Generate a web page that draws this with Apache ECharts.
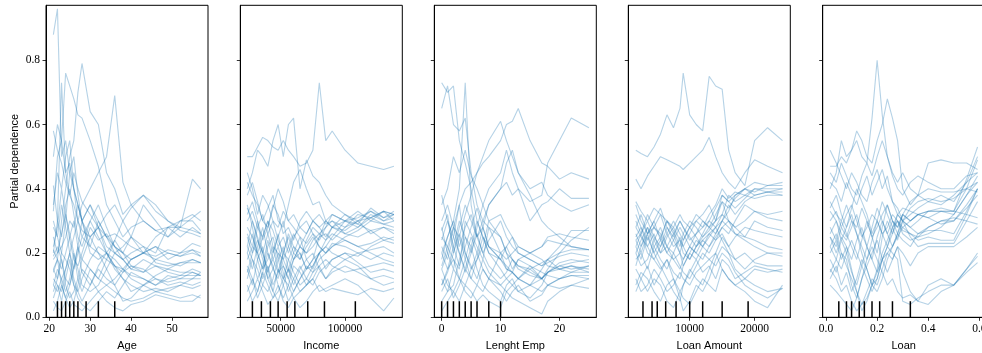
<!DOCTYPE html>
<html><head><meta charset="utf-8">
<script src="https://cdn.jsdelivr.net/npm/echarts@6/dist/echarts.min.js"></script>
<style>html,body{margin:0;padding:0;background:#fff}#c{width:982px;height:353px}</style>
</head><body><div id="c"></div><script>
// ---------- data ----------
const featureNames = ["Age", "Income", "Lenght Emp", "Loan Amount", "Loan"];
const yTicks = [0, 0.2, 0.4, 0.6, 0.8];

const ageX = [21,22,23,24,25,26,27,28,30,32,34,36,38,40,43,46,49,52,55,57];
const ageLines = [
 [0.88,0.96,0.50,0.55,0.45,0.40,0.35,0.30,0.22,0.20,0.18,0.16,0.15,0.13,0.12,0.10,0.12,0.13,0.13,0.13],
 [0.58,0.52,0.48,0.42,0.38,0.35,0.30,0.27,0.25,0.28,0.22,0.20,0.18,0.15,0.14,0.16,0.15,0.17,0.17,0.17],
 [0.20,0.30,0.73,0.45,0.48,0.40,0.30,0.25,0.30,0.35,0.28,0.22,0.20,0.18,0.20,0.22,0.20,0.19,0.21,0.19],
 [0.33,0.50,0.55,0.76,0.72,0.68,0.63,0.62,0.55,0.47,0.35,0.30,0.25,0.28,0.30,0.27,0.28,0.28,0.27,0.26],
 [0.15,0.18,0.30,0.40,0.50,0.55,0.70,0.79,0.64,0.60,0.45,0.40,0.32,0.35,0.38,0.33,0.30,0.28,0.31,0.33],
 [0.10,0.08,0.12,0.15,0.20,0.25,0.30,0.35,0.40,0.45,0.50,0.69,0.42,0.35,0.30,0.27,0.25,0.30,0.32,0.30],
 [0.41,0.30,0.25,0.35,0.40,0.32,0.25,0.22,0.30,0.25,0.20,0.18,0.15,0.12,0.10,0.08,0.09,0.10,0.12,0.14],
 [0.21,0.18,0.15,0.20,0.25,0.30,0.22,0.18,0.15,0.12,0.10,0.08,0.06,0.05,0.06,0.08,0.07,0.06,0.07,0.06],
 [0.12,0.10,0.08,0.15,0.20,0.12,0.08,0.05,0.10,0.15,0.12,0.10,0.14,0.18,0.20,0.25,0.28,0.30,0.30,0.27],
 [0.19,0.22,0.18,0.12,0.10,0.15,0.20,0.25,0.22,0.30,0.25,0.20,0.22,0.25,0.35,0.30,0.25,0.28,0.43,0.40],
 [0.05,0.03,0.02,0.05,0.08,0.04,0.03,0.02,0.05,0.08,0.10,0.12,0.15,0.18,0.20,0.22,0.18,0.20,0.23,0.22],
 [0.28,0.25,0.20,0.18,0.15,0.10,0.08,0.12,0.18,0.22,0.20,0.15,0.12,0.10,0.08,0.09,0.08,0.10,0.09,0.10],
 [0.15,0.12,0.18,0.10,0.06,0.08,0.12,0.18,0.25,0.20,0.15,0.10,0.05,0.06,0.10,0.13,0.15,0.14,0.14,0.13],
 [0.02,0.05,0.10,0.06,0.03,0.05,0.10,0.15,0.12,0.08,0.05,0.03,0.02,0.04,0.05,0.07,0.06,0.05,0.05,0.07],
 [0.18,0.20,0.22,0.25,0.30,0.28,0.35,0.30,0.25,0.28,0.32,0.35,0.30,0.25,0.22,0.20,0.28,0.25,0.28,0.26],
 [0.08,0.12,0.20,0.30,0.45,0.50,0.38,0.30,0.20,0.18,0.20,0.16,0.14,0.16,0.15,0.12,0.11,0.12,0.12,0.12],
 [0.35,0.45,0.40,0.50,0.55,0.40,0.35,0.30,0.35,0.30,0.25,0.22,0.20,0.25,0.20,0.18,0.17,0.16,0.18,0.17],
 [0.10,0.15,0.12,0.08,0.12,0.20,0.15,0.10,0.08,0.10,0.15,0.20,0.18,0.15,0.18,0.16,0.14,0.13,0.15,0.14],
 [0.50,0.60,0.55,0.45,0.38,0.45,0.40,0.36,0.32,0.28,0.25,0.26,0.24,0.22,0.20,0.19,0.21,0.20,0.21,0.20],
 [0.25,0.20,0.26,0.32,0.24,0.18,0.16,0.20,0.28,0.24,0.26,0.22,0.18,0.20,0.22,0.17,0.16,0.17,0.18,0.17],
 [0.30,0.25,0.35,0.28,0.20,0.15,0.22,0.30,0.35,0.28,0.20,0.24,0.30,0.34,0.38,0.35,0.30,0.27,0.26,0.25],
 [0.14,0.18,0.10,0.06,0.10,0.16,0.22,0.14,0.10,0.16,0.20,0.16,0.12,0.08,0.10,0.12,0.10,0.11,0.10,0.11],
 [0.22,0.28,0.40,0.32,0.26,0.20,0.12,0.08,0.15,0.12,0.18,0.24,0.20,0.16,0.14,0.18,0.20,0.19,0.20,0.19],
 [0.06,0.10,0.05,0.12,0.18,0.10,0.06,0.04,0.02,0.05,0.08,0.06,0.10,0.14,0.12,0.10,0.13,0.12,0.14,0.13]
];
const ageRug = [22,23,24,25,26,27,29,32,36];
const ageTicks = [20,30,40,50];

const incomeX = [24000,28000,32000,36000,40000,44000,48000,52000,56000,60000,65000,70000,75000,80000,85000,90000,100000,110000,120000,130000,138000];
const incomeLines = [
 [0.50,0.50,0.53,0.56,0.55,0.53,0.52,0.55,0.52,0.50,0.47,0.48,0.52,0.73,0.55,0.58,0.52,0.48,0.47,0.46,0.47],
 [0.40,0.45,0.52,0.50,0.47,0.55,0.60,0.50,0.60,0.62,0.40,0.49,0.44,0.42,0.38,0.35,0.32,0.30,0.31,0.33,0.32],
 [0.42,0.38,0.35,0.30,0.34,0.38,0.30,0.28,0.35,0.42,0.46,0.40,0.35,0.36,0.30,0.28,0.27,0.30,0.33,0.31,0.32],
 [0.22,0.30,0.25,0.20,0.15,0.18,0.22,0.16,0.12,0.18,0.20,0.15,0.16,0.20,0.22,0.25,0.30,0.28,0.32,0.30,0.31],
 [0.15,0.10,0.18,0.22,0.12,0.08,0.15,0.10,0.05,0.08,0.12,0.16,0.14,0.18,0.20,0.22,0.25,0.27,0.30,0.29,0.30],
 [0.05,0.08,0.12,0.08,0.04,0.06,0.10,0.05,0.03,0.06,0.08,0.10,0.12,0.08,0.09,0.10,0.12,0.10,0.06,0.02,0.06],
 [0.30,0.33,0.28,0.25,0.30,0.27,0.22,0.25,0.20,0.25,0.28,0.30,0.26,0.24,0.28,0.32,0.30,0.33,0.30,0.33,0.30],
 [0.20,0.15,0.22,0.28,0.20,0.15,0.12,0.20,0.25,0.20,0.18,0.22,0.25,0.22,0.20,0.23,0.22,0.20,0.18,0.20,0.19],
 [0.35,0.28,0.20,0.15,0.22,0.25,0.18,0.12,0.15,0.20,0.25,0.18,0.15,0.20,0.15,0.18,0.20,0.17,0.14,0.15,0.14],
 [0.12,0.18,0.15,0.10,0.08,0.12,0.18,0.22,0.15,0.10,0.15,0.18,0.20,0.15,0.12,0.14,0.16,0.14,0.12,0.10,0.11],
 [0.25,0.20,0.28,0.32,0.26,0.20,0.25,0.30,0.22,0.18,0.22,0.26,0.30,0.28,0.25,0.28,0.32,0.29,0.34,0.31,0.33],
 [0.08,0.12,0.06,0.10,0.15,0.08,0.05,0.10,0.15,0.12,0.08,0.10,0.14,0.16,0.12,0.15,0.18,0.16,0.12,0.13,0.12],
 [0.45,0.40,0.32,0.38,0.35,0.30,0.28,0.33,0.30,0.28,0.25,0.23,0.26,0.22,0.20,0.22,0.24,0.22,0.23,0.25,0.24],
 [0.18,0.22,0.20,0.15,0.18,0.22,0.15,0.12,0.18,0.22,0.20,0.15,0.18,0.25,0.26,0.24,0.28,0.30,0.26,0.28,0.27],
 [0.28,0.25,0.20,0.25,0.30,0.22,0.20,0.18,0.22,0.26,0.22,0.20,0.22,0.25,0.30,0.28,0.26,0.25,0.27,0.24,0.25],
 [0.10,0.05,0.08,0.14,0.10,0.06,0.08,0.12,0.10,0.06,0.03,0.05,0.08,0.10,0.08,0.09,0.08,0.07,0.09,0.08,0.09],
 [0.38,0.42,0.36,0.30,0.28,0.34,0.40,0.36,0.30,0.32,0.28,0.26,0.30,0.32,0.29,0.30,0.28,0.32,0.31,0.29,0.28],
 [0.22,0.18,0.12,0.16,0.24,0.18,0.14,0.16,0.12,0.08,0.12,0.15,0.18,0.20,0.22,0.20,0.18,0.20,0.21,0.22,0.20],
 [0.14,0.20,0.24,0.18,0.12,0.15,0.20,0.14,0.08,0.12,0.16,0.12,0.10,0.14,0.16,0.18,0.20,0.19,0.22,0.24,0.23],
 [0.32,0.36,0.30,0.24,0.28,0.35,0.32,0.26,0.28,0.24,0.30,0.33,0.30,0.28,0.30,0.32,0.30,0.31,0.33,0.30,0.32],
 [0.26,0.22,0.30,0.20,0.14,0.20,0.26,0.18,0.14,0.18,0.22,0.20,0.24,0.26,0.28,0.30,0.26,0.28,0.31,0.33,0.32],
 [0.16,0.12,0.08,0.14,0.20,0.16,0.10,0.06,0.10,0.16,0.14,0.10,0.12,0.16,0.18,0.16,0.14,0.15,0.16,0.17,0.16],
 [0.34,0.30,0.24,0.20,0.26,0.30,0.24,0.20,0.26,0.22,0.18,0.24,0.28,0.26,0.24,0.28,0.30,0.29,0.27,0.28,0.26],
 [0.20,0.26,0.18,0.12,0.16,0.10,0.14,0.20,0.18,0.14,0.10,0.12,0.16,0.20,0.24,0.26,0.24,0.22,0.20,0.18,0.17]
];
const incomeRug = [28000,35000,42000,48000,55000,61000,71000,84000,108000];
const incomeTicks = [50000,100000];

const empX = [0,1,2,3,4,5,6,7,8,10,11,12,13,15,17,18,20,22,25];
const empLines = [
 [0.73,0.70,0.72,0.55,0.48,0.40,0.30,0.25,0.22,0.18,0.15,0.14,0.12,0.10,0.15,0.18,0.20,0.21,0.21],
 [0.65,0.72,0.60,0.58,0.62,0.45,0.35,0.30,0.28,0.25,0.20,0.18,0.15,0.13,0.12,0.14,0.16,0.17,0.18],
 [0.20,0.25,0.30,0.40,0.73,0.35,0.25,0.30,0.35,0.40,0.42,0.38,0.40,0.36,0.38,0.48,0.55,0.62,0.59],
 [0.15,0.20,0.28,0.35,0.40,0.42,0.45,0.48,0.50,0.55,0.60,0.61,0.65,0.55,0.48,0.47,0.43,0.45,0.43],
 [0.30,0.35,0.28,0.25,0.32,0.38,0.45,0.50,0.55,0.61,0.55,0.50,0.45,0.40,0.42,0.38,0.35,0.33,0.35],
 [0.10,0.15,0.22,0.30,0.25,0.20,0.28,0.35,0.40,0.45,0.52,0.45,0.40,0.30,0.35,0.36,0.40,0.37,0.37],
 [0.05,0.08,0.15,0.12,0.18,0.25,0.20,0.15,0.12,0.10,0.08,0.06,0.05,0.03,0.01,0.05,0.08,0.10,0.12],
 [0.22,0.18,0.25,0.35,0.20,0.15,0.18,0.22,0.30,0.25,0.20,0.15,0.18,0.16,0.12,0.15,0.20,0.24,0.28],
 [0.12,0.08,0.10,0.18,0.25,0.22,0.15,0.10,0.08,0.05,0.10,0.12,0.08,0.06,0.10,0.14,0.16,0.15,0.16],
 [0.38,0.30,0.25,0.20,0.15,0.22,0.30,0.25,0.20,0.18,0.22,0.25,0.20,0.18,0.16,0.18,0.22,0.27,0.27],
 [0.02,0.05,0.08,0.05,0.10,0.08,0.05,0.07,0.05,0.03,0.08,0.10,0.12,0.15,0.12,0.10,0.09,0.10,0.09],
 [0.25,0.22,0.18,0.15,0.30,0.26,0.22,0.18,0.28,0.20,0.22,0.18,0.16,0.15,0.17,0.18,0.15,0.16,0.14],
 [0.18,0.25,0.30,0.22,0.28,0.32,0.25,0.20,0.24,0.30,0.25,0.22,0.20,0.18,0.16,0.17,0.19,0.20,0.19],
 [0.08,0.12,0.06,0.10,0.15,0.12,0.18,0.25,0.20,0.15,0.12,0.14,0.12,0.10,0.08,0.10,0.12,0.13,0.13],
 [0.28,0.20,0.15,0.25,0.18,0.12,0.10,0.15,0.12,0.08,0.05,0.08,0.10,0.05,0.07,0.10,0.12,0.14,0.16],
 [0.35,0.40,0.50,0.45,0.52,0.44,0.40,0.35,0.30,0.32,0.28,0.25,0.22,0.20,0.22,0.25,0.26,0.25,0.24],
 [0.15,0.10,0.08,0.12,0.08,0.06,0.10,0.08,0.12,0.20,0.15,0.14,0.12,0.16,0.14,0.13,0.12,0.13,0.12],
 [0.20,0.15,0.18,0.12,0.10,0.15,0.20,0.28,0.35,0.40,0.48,0.52,0.45,0.38,0.30,0.28,0.25,0.22,0.21],
 [0.27,0.32,0.20,0.28,0.35,0.30,0.25,0.28,0.22,0.20,0.18,0.20,0.22,0.20,0.18,0.16,0.15,0.16,0.15],
 [0.16,0.22,0.28,0.20,0.14,0.20,0.26,0.20,0.16,0.12,0.14,0.18,0.16,0.14,0.12,0.14,0.17,0.18,0.17],
 [0.24,0.30,0.22,0.16,0.22,0.28,0.34,0.28,0.22,0.18,0.16,0.14,0.18,0.20,0.22,0.24,0.23,0.22,0.21],
 [0.10,0.14,0.20,0.26,0.20,0.16,0.12,0.18,0.14,0.10,0.12,0.10,0.08,0.10,0.12,0.14,0.15,0.14,0.14]
];
const empRug = [0,1,2,3,4,5,6,8,10];
const empTicks = [0,10,20];

const amountX = [1700,2500,3500,4500,5500,6500,7500,8500,9000,10000,11000,12000,13000,14000,15000,16000,17000,18500,20000,22000,24300];
const amountLines = [
 [0.52,0.51,0.50,0.53,0.57,0.63,0.59,0.65,0.76,0.63,0.60,0.58,0.75,0.72,0.71,0.52,0.45,0.41,0.55,0.59,0.55],
 [0.43,0.40,0.44,0.47,0.50,0.49,0.48,0.47,0.46,0.48,0.50,0.52,0.56,0.50,0.45,0.42,0.40,0.45,0.49,0.47,0.45],
 [0.36,0.33,0.30,0.34,0.32,0.30,0.28,0.32,0.30,0.28,0.30,0.32,0.35,0.30,0.38,0.36,0.38,0.40,0.39,0.41,0.41],
 [0.25,0.28,0.22,0.26,0.20,0.25,0.28,0.24,0.22,0.26,0.30,0.28,0.32,0.35,0.40,0.37,0.39,0.38,0.40,0.40,0.40],
 [0.20,0.24,0.28,0.22,0.18,0.15,0.20,0.25,0.22,0.18,0.22,0.25,0.28,0.30,0.36,0.34,0.37,0.40,0.38,0.39,0.38],
 [0.30,0.26,0.32,0.28,0.25,0.30,0.27,0.22,0.26,0.30,0.28,0.25,0.27,0.30,0.32,0.30,0.28,0.30,0.33,0.32,0.33],
 [0.22,0.18,0.25,0.20,0.16,0.12,0.08,0.05,0.10,0.15,0.12,0.10,0.15,0.20,0.25,0.22,0.18,0.20,0.17,0.16,0.16],
 [0.15,0.12,0.08,0.12,0.10,0.05,0.03,0.08,0.06,0.04,0.08,0.12,0.10,0.08,0.15,0.12,0.10,0.08,0.05,0.03,0.10],
 [0.10,0.14,0.12,0.08,0.05,0.10,0.12,0.06,0.02,0.05,0.10,0.08,0.12,0.18,0.22,0.20,0.15,0.12,0.10,0.08,0.09],
 [0.28,0.32,0.26,0.30,0.34,0.28,0.25,0.30,0.28,0.24,0.26,0.30,0.28,0.32,0.36,0.30,0.28,0.25,0.30,0.28,0.27],
 [0.18,0.20,0.15,0.22,0.25,0.20,0.18,0.15,0.18,0.22,0.20,0.18,0.22,0.25,0.28,0.30,0.26,0.25,0.24,0.22,0.21],
 [0.26,0.22,0.28,0.24,0.20,0.22,0.18,0.20,0.16,0.20,0.24,0.22,0.26,0.24,0.28,0.26,0.30,0.35,0.33,0.31,0.30],
 [0.12,0.08,0.10,0.15,0.12,0.08,0.10,0.14,0.12,0.10,0.14,0.16,0.18,0.20,0.15,0.12,0.10,0.12,0.15,0.14,0.15],
 [0.35,0.30,0.26,0.28,0.32,0.26,0.22,0.24,0.20,0.18,0.22,0.24,0.26,0.28,0.30,0.33,0.38,0.40,0.42,0.41,0.42],
 [0.24,0.26,0.30,0.25,0.22,0.28,0.24,0.20,0.24,0.28,0.25,0.22,0.25,0.28,0.24,0.20,0.18,0.15,0.18,0.20,0.20],
 [0.20,0.16,0.18,0.24,0.28,0.22,0.20,0.16,0.14,0.12,0.16,0.20,0.18,0.16,0.20,0.18,0.14,0.10,0.08,0.06,0.09],
 [0.28,0.25,0.22,0.18,0.22,0.26,0.30,0.26,0.24,0.28,0.32,0.30,0.28,0.26,0.30,0.35,0.32,0.36,0.38,0.39,0.39],
 [0.22,0.26,0.20,0.18,0.15,0.18,0.14,0.12,0.16,0.20,0.18,0.22,0.20,0.24,0.26,0.22,0.25,0.28,0.27,0.26,0.25],
 [0.24,0.20,0.26,0.30,0.24,0.20,0.24,0.28,0.26,0.22,0.26,0.28,0.30,0.34,0.38,0.36,0.34,0.37,0.40,0.39,0.40],
 [0.16,0.22,0.26,0.20,0.24,0.30,0.26,0.20,0.18,0.22,0.20,0.24,0.22,0.26,0.30,0.28,0.26,0.24,0.22,0.20,0.19],
 [0.32,0.28,0.24,0.28,0.26,0.22,0.26,0.30,0.28,0.25,0.22,0.26,0.30,0.28,0.32,0.38,0.36,0.38,0.37,0.38,0.38],
 [0.08,0.12,0.16,0.10,0.14,0.18,0.12,0.08,0.10,0.14,0.18,0.14,0.16,0.12,0.18,0.16,0.12,0.14,0.16,0.15,0.14]
];
const amountRug = [2800,4200,5000,6300,7900,10000,12000,15000,19000];
const amountTicks = [10000,20000];

const loanX = [0.016,0.04,0.06,0.08,0.10,0.12,0.14,0.16,0.18,0.20,0.22,0.24,0.26,0.28,0.30,0.33,0.36,0.40,0.45,0.50,0.55,0.593];
const loanLines = [
 [0.47,0.47,0.50,0.48,0.52,0.55,0.50,0.48,0.62,0.80,0.63,0.50,0.45,0.42,0.45,0.40,0.38,0.48,0.49,0.48,0.48,0.46],
 [0.40,0.45,0.55,0.50,0.52,0.58,0.55,0.50,0.48,0.55,0.60,0.68,0.62,0.55,0.40,0.35,0.38,0.36,0.35,0.38,0.42,0.45],
 [0.25,0.22,0.28,0.25,0.30,0.26,0.20,0.15,0.10,0.12,0.18,0.22,0.28,0.30,0.26,0.24,0.25,0.26,0.28,0.32,0.38,0.42],
 [0.20,0.24,0.18,0.22,0.15,0.08,0.02,0.05,0.10,0.14,0.18,0.20,0.22,0.25,0.28,0.26,0.24,0.25,0.24,0.24,0.32,0.40],
 [0.30,0.33,0.28,0.32,0.35,0.30,0.25,0.28,0.32,0.30,0.26,0.28,0.32,0.30,0.27,0.26,0.25,0.28,0.30,0.30,0.35,0.40],
 [0.15,0.12,0.08,0.10,0.05,0.02,0.04,0.08,0.12,0.10,0.15,0.20,0.18,0.22,0.14,0.08,0.05,0.04,0.08,0.10,0.15,0.19],
 [0.42,0.40,0.36,0.42,0.38,0.35,0.40,0.44,0.38,0.42,0.46,0.40,0.36,0.32,0.34,0.33,0.32,0.33,0.34,0.33,0.40,0.49],
 [0.22,0.26,0.20,0.16,0.12,0.08,0.04,0.06,0.10,0.15,0.25,0.30,0.26,0.32,0.30,0.28,0.30,0.33,0.33,0.33,0.43,0.53],
 [0.36,0.32,0.30,0.35,0.30,0.28,0.34,0.30,0.25,0.28,0.32,0.35,0.30,0.28,0.32,0.30,0.32,0.31,0.29,0.30,0.34,0.38],
 [0.12,0.16,0.10,0.14,0.08,0.12,0.18,0.15,0.10,0.08,0.12,0.18,0.22,0.26,0.30,0.25,0.22,0.23,0.23,0.23,0.30,0.36],
 [0.25,0.20,0.25,0.22,0.18,0.24,0.28,0.22,0.18,0.25,0.30,0.26,0.22,0.26,0.32,0.36,0.38,0.40,0.39,0.39,0.40,0.39],
 [0.52,0.48,0.44,0.40,0.45,0.42,0.38,0.36,0.42,0.46,0.40,0.44,0.36,0.34,0.30,0.32,0.34,0.36,0.38,0.36,0.42,0.50],
 [0.18,0.14,0.20,0.18,0.10,0.06,0.12,0.18,0.22,0.18,0.14,0.10,0.12,0.08,0.06,0.07,0.05,0.10,0.12,0.10,0.14,0.17],
 [0.33,0.30,0.26,0.24,0.28,0.32,0.26,0.22,0.28,0.34,0.30,0.26,0.30,0.28,0.32,0.30,0.32,0.31,0.33,0.33,0.32,0.31],
 [0.10,0.08,0.06,0.04,0.02,0.06,0.12,0.16,0.20,0.24,0.18,0.14,0.18,0.22,0.20,0.16,0.20,0.22,0.22,0.22,0.25,0.28],
 [0.28,0.24,0.30,0.26,0.22,0.18,0.24,0.30,0.25,0.20,0.28,0.35,0.30,0.26,0.24,0.22,0.26,0.28,0.30,0.31,0.30,0.29],
 [0.45,0.42,0.48,0.44,0.40,0.38,0.44,0.48,0.44,0.50,0.55,0.50,0.44,0.40,0.38,0.42,0.44,0.42,0.40,0.40,0.44,0.45],
 [0.22,0.18,0.15,0.20,0.24,0.20,0.16,0.12,0.08,0.12,0.18,0.22,0.20,0.18,0.05,0.04,0.06,0.08,0.10,0.10,0.15,0.20],
 [0.26,0.30,0.24,0.28,0.32,0.26,0.22,0.18,0.24,0.30,0.26,0.22,0.26,0.30,0.28,0.30,0.32,0.33,0.33,0.32,0.38,0.44],
 [0.14,0.18,0.24,0.20,0.14,0.10,0.16,0.22,0.18,0.14,0.20,0.24,0.28,0.24,0.30,0.28,0.26,0.27,0.27,0.26,0.33,0.40],
 [0.34,0.38,0.32,0.28,0.34,0.40,0.36,0.32,0.26,0.30,0.36,0.32,0.28,0.32,0.30,0.34,0.36,0.37,0.36,0.37,0.40,0.42]
];
const loanRug = [0.05,0.08,0.10,0.13,0.15,0.18,0.21,0.26,0.33];
const loanTicks = [0.0,0.2,0.4,0.6];

// ---------- build ----------
const panels = [
  {x: ageX, lines: ageLines, rug: ageRug, ticks: ageTicks, min: 19.2, max: 58.8, fmt: v => String(v)},
  {x: incomeX, lines: incomeLines, rug: incomeRug, ticks: incomeTicks, min: 18600, max: 144500, fmt: v => String(v)},
  {x: empX, lines: empLines, rug: empRug, ticks: empTicks, min: -1.25, max: 26.25, fmt: v => String(v)},
  {x: amountX, lines: amountLines, rug: amountRug, ticks: amountTicks, min: 540, max: 25500, fmt: v => String(v)},
  {x: loanX, lines: loanLines, rug: loanRug, ticks: loanTicks, min: -0.013, max: 0.621, fmt: v => Number(v).toFixed(1)}
];

const gridLeft = [46, 240.3, 434.3, 628.3, 822.7];
const serif = "'Liberation Serif', 'Times New Roman', serif";
const sans = "'Liberation Sans', Arial, sans-serif";

const grids = [], xAxes = [], yAxes = [], series = [];
panels.forEach((p, i) => {
  grids.push({left: gridLeft[i], top: 5.3, width: 162, height: 312,
    containLabel: false, outerBoundsMode: 'none',
    show: true, borderColor: '#000', borderWidth: 1, backgroundColor: 'transparent'});
  xAxes.push({
    type: 'value', gridIndex: i, min: p.min, max: p.max,
    name: featureNames[i], nameLocation: 'middle', nameGap: 21,
    nameTextStyle: {fontFamily: sans, fontSize: 11, color: '#000'},
    axisLine: {show: true, onZero: false, lineStyle: {color: '#000', width: 1}},
    axisTick: {show: true, inside: false, length: 3.5, lineStyle: {color: '#000', width: 0.8}, customValues: p.ticks},
    axisLabel: {show: true, margin: 6, fontFamily: serif, fontSize: 11.5, color: '#000',
      customValues: p.ticks, formatter: p.fmt, hideOverlap: false},
    splitLine: {show: false}
  });
  yAxes.push({
    type: 'value', gridIndex: i, min: 0, max: 0.971,
    name: i === 0 ? 'Partial dependence' : '', nameLocation: 'middle', nameGap: 26,
    nameTextStyle: {fontFamily: sans, fontSize: 11, color: '#000'},
    axisLine: {show: true, onZero: false, lineStyle: {color: '#000', width: 1}},
    axisTick: {show: true, inside: false, length: 3.5, lineStyle: {color: '#000', width: 0.8}, customValues: yTicks},
    axisLabel: {show: i === 0, margin: 6, fontFamily: serif, fontSize: 11.5, color: '#000',
      customValues: yTicks, formatter: v => Number(v).toFixed(1)},
    splitLine: {show: false}
  });
  p.lines.forEach(ys => {
    series.push({
      type: 'line', xAxisIndex: i, yAxisIndex: i, silent: true,
      showSymbol: false, symbol: 'none', animation: false,
      lineStyle: {color: '#1f77b4', width: 1.1, opacity: 0.33},
      data: p.x.map((x, k) => [x, ys[k]])
    });
  });
  series.push({
    type: 'custom', xAxisIndex: i, yAxisIndex: i, silent: true, animation: false, z: 5,
    data: p.rug.map(v => [v]),
    renderItem: (params, api) => {
      const a = api.coord([api.value(0), 0]);
      const b = api.coord([api.value(0), 0.05]);
      return {type: 'line', shape: {x1: a[0], y1: a[1], x2: b[0], y2: b[1]},
        style: {stroke: '#000', lineWidth: 1.5}};
    }
  });
});

const chart = echarts.init(document.getElementById('c'), null, {renderer: 'canvas'});
chart.setOption({animation: false, backgroundColor: '#fff', grid: grids, xAxis: xAxes, yAxis: yAxes, series: series});
</script></body></html>
